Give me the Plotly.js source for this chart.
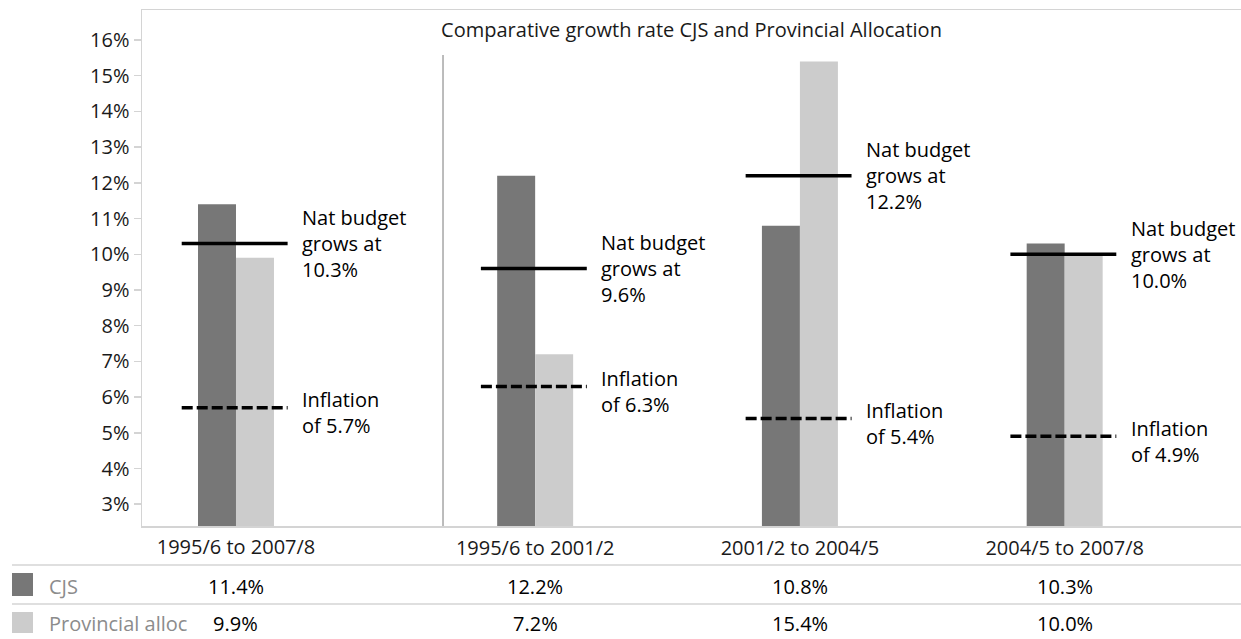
<!DOCTYPE html>
<html>
<head>
<meta charset="utf-8">
<script src="https://cdn.plot.ly/plotly-3.0.1.min.js"></script>
<style>
  html, body { margin: 0; padding: 0; background: #ffffff; }
  #chart { width: 1241px; height: 639px; }
</style>
</head>
<body>
<div id="chart"></div>
<script>
// ---- Data ----
const categories = ['1995/6 to 2007/8', '1995/6 to 2001/2', '2001/2 to 2004/5', '2004/5 to 2007/8'];
const cjsGrowth = [11.4, 12.2, 10.8, 10.3];
const provincialGrowth = [9.9, 7.2, 15.4, 10.0];
const natBudgetGrowth = [10.3, 9.6, 12.2, 10.0];
const inflation = [5.7, 6.3, 5.4, 4.9];
const seriesNames = ['CJS', 'Provincial alloc'];
const yTicks = [3, 4, 5, 6, 7, 8, 9, 10, 11, 12, 13, 14, 15, 16];
const chartTitle = 'Comparative growth rate CJS and Provincial Allocation';

// ---- Styles ----
const FONT = 'Open Sans, Noto Sans, sans-serif';
const DARK = '#777777';
const LIGHT = '#cccccc';
const LINEGREY = '#d4d4d4';

// first category sits in its own panel, the other three share the second panel
const leftCats = categories.slice(0, 1);
const rightCats = categories.slice(1);
function axisOf(i) { return i === 0 ? 'x' : 'x2'; }
function idxOf(i) { return i === 0 ? 0 : i - 1; }

const traces = [
  { type: 'bar', x: leftCats, y: cjsGrowth.slice(0, 1), xaxis: 'x', yaxis: 'y',
    marker: { color: DARK }, name: seriesNames[0], hoverinfo: 'skip' },
  { type: 'bar', x: leftCats, y: provincialGrowth.slice(0, 1), xaxis: 'x', yaxis: 'y',
    marker: { color: LIGHT }, name: seriesNames[1], hoverinfo: 'skip' },
  { type: 'bar', x: rightCats, y: cjsGrowth.slice(1), xaxis: 'x2', yaxis: 'y',
    marker: { color: DARK }, name: seriesNames[0], hoverinfo: 'skip' },
  { type: 'bar', x: rightCats, y: provincialGrowth.slice(1), xaxis: 'x2', yaxis: 'y',
    marker: { color: LIGHT }, name: seriesNames[1], hoverinfo: 'skip' }
];

const shapes = [];
const annotations = [];
const TXT = { family: FONT, size: 20, color: '#000' };

// reference lines + labels
categories.forEach((c, i) => {
  const xr = axisOf(i), k = idxOf(i);
  shapes.push({ type: 'line', xref: xr, yref: 'y', x0: k - 0.205, x1: k + 0.195,
    y0: natBudgetGrowth[i], y1: natBudgetGrowth[i], line: { color: '#000', width: 3.5 } });
  shapes.push({ type: 'line', xref: xr, yref: 'y', x0: k - 0.205, x1: k + 0.195,
    y0: inflation[i], y1: inflation[i], line: { color: '#000', width: 3.5, dash: '11px,4px' } });
  annotations.push({ xref: xr, yref: 'y', x: k, y: natBudgetGrowth[i], xshift: 64, yshift: 0,
    xanchor: 'left', yanchor: 'middle', align: 'left', showarrow: false,
    text: 'Nat budget<br>grows at<br>' + natBudgetGrowth[i].toFixed(1) + '%', font: TXT });
  annotations.push({ xref: xr, yref: 'y', x: k, y: inflation[i], xshift: 64, yshift: -5,
    xanchor: 'left', yanchor: 'middle', align: 'left', showarrow: false,
    text: 'Inflation<br>of ' + inflation[i].toFixed(1) + '%', font: TXT });
  // table values
  annotations.push({ xref: xr, yref: 'paper', x: k, y: -0.1163, xanchor: 'center', yanchor: 'middle',
    showarrow: false, text: cjsGrowth[i].toFixed(1) + '%', font: TXT });
  annotations.push({ xref: xr, yref: 'paper', x: k, y: -0.188, xanchor: 'center', yanchor: 'middle',
    showarrow: false, text: provincialGrowth[i].toFixed(1) + '%', font: TXT });
});

// panel divider
shapes.push({ type: 'line', xref: 'paper', yref: 'paper', x0: 0.2739, x1: 0.2739, y0: 0, y1: 0.913,
  line: { color: '#a6a6a6', width: 1.5 } });
// table rules
shapes.push({ type: 'line', xref: 'paper', yref: 'paper', x0: -0.1183, x1: 1, y0: -0.0756, y1: -0.0756,
  line: { color: LINEGREY, width: 1.5 } });
shapes.push({ type: 'line', xref: 'paper', yref: 'paper', x0: -0.1183, x1: 1, y0: -0.1512, y1: -0.1512,
  line: { color: LINEGREY, width: 1.5 } });
// legend swatches
shapes.push({ type: 'rect', xref: 'paper', yref: 'paper', x0: -0.1183, x1: -0.0992, y0: -0.0911, y1: -0.1357,
  fillcolor: DARK, line: { width: 0 } });
shapes.push({ type: 'rect', xref: 'paper', yref: 'paper', x0: -0.1183, x1: -0.0992, y0: -0.1667, y1: -0.2074,
  fillcolor: LIGHT, line: { width: 0 } });
annotations.push({ xref: 'paper', yref: 'paper', x: -0.0864, y: -0.1163, xanchor: 'left', yanchor: 'middle',
  showarrow: false, text: seriesNames[0], font: { family: FONT, size: 20, color: '#8c8c8c' } });
annotations.push({ xref: 'paper', yref: 'paper', x: -0.0864, y: -0.188, xanchor: 'left', yanchor: 'middle',
  showarrow: false, text: seriesNames[1], font: { family: FONT, size: 20, color: '#8c8c8c' } });

const layout = {
  width: 1241, height: 639,
  margin: { l: 142, r: 0, t: 10, b: 113 },
  paper_bgcolor: '#ffffff', plot_bgcolor: '#ffffff',
  showlegend: false,
  barmode: 'group', bargap: 0.713, bargroupgap: 0,
  font: { family: FONT, size: 20, color: '#1a1a1a' },
  title: { text: chartTitle, xref: 'paper', x: 0.5, xanchor: 'center',
    yref: 'container', y: 0.953, yanchor: 'middle', font: { family: FONT, size: 20, color: '#1a1a1a' } },
  xaxis: { type: 'category', categoryarray: leftCats, categoryorder: 'array',
    range: [-0.355, 3.796], domain: [0, 1], showgrid: false, zeroline: false,
    showline: true, mirror: true, linecolor: LINEGREY, linewidth: 1.5, ticks: '',
    ticklabelstandoff: 2,
    tickfont: { family: FONT, size: 20, color: '#1a1a1a' }, fixedrange: true },
  xaxis2: { type: 'category', categoryarray: rightCats, categoryorder: 'array',
    range: [-1.485, 2.666], overlaying: 'x', side: 'bottom', showgrid: false, zeroline: false,
    showline: false, ticks: '', ticklabelstandoff: 8,
    tickfont: { family: FONT, size: 20, color: '#1a1a1a' }, fixedrange: true },
  yaxis: { range: [2.39, 16.84], tickvals: yTicks, ticktext: yTicks.map(v => v + '%'),
    showgrid: false, zeroline: false, showline: true, linecolor: LINEGREY, linewidth: 1.5,
    ticks: 'outside', ticklen: 7, tickcolor: LINEGREY, tickwidth: 1.5,
    tickfont: { family: FONT, size: 20, color: '#1a1a1a' }, fixedrange: true },
  shapes: shapes,
  annotations: annotations
};

Plotly.newPlot('chart', traces, layout, { displayModeBar: false, staticPlot: true });
</script>
</body>
</html>
